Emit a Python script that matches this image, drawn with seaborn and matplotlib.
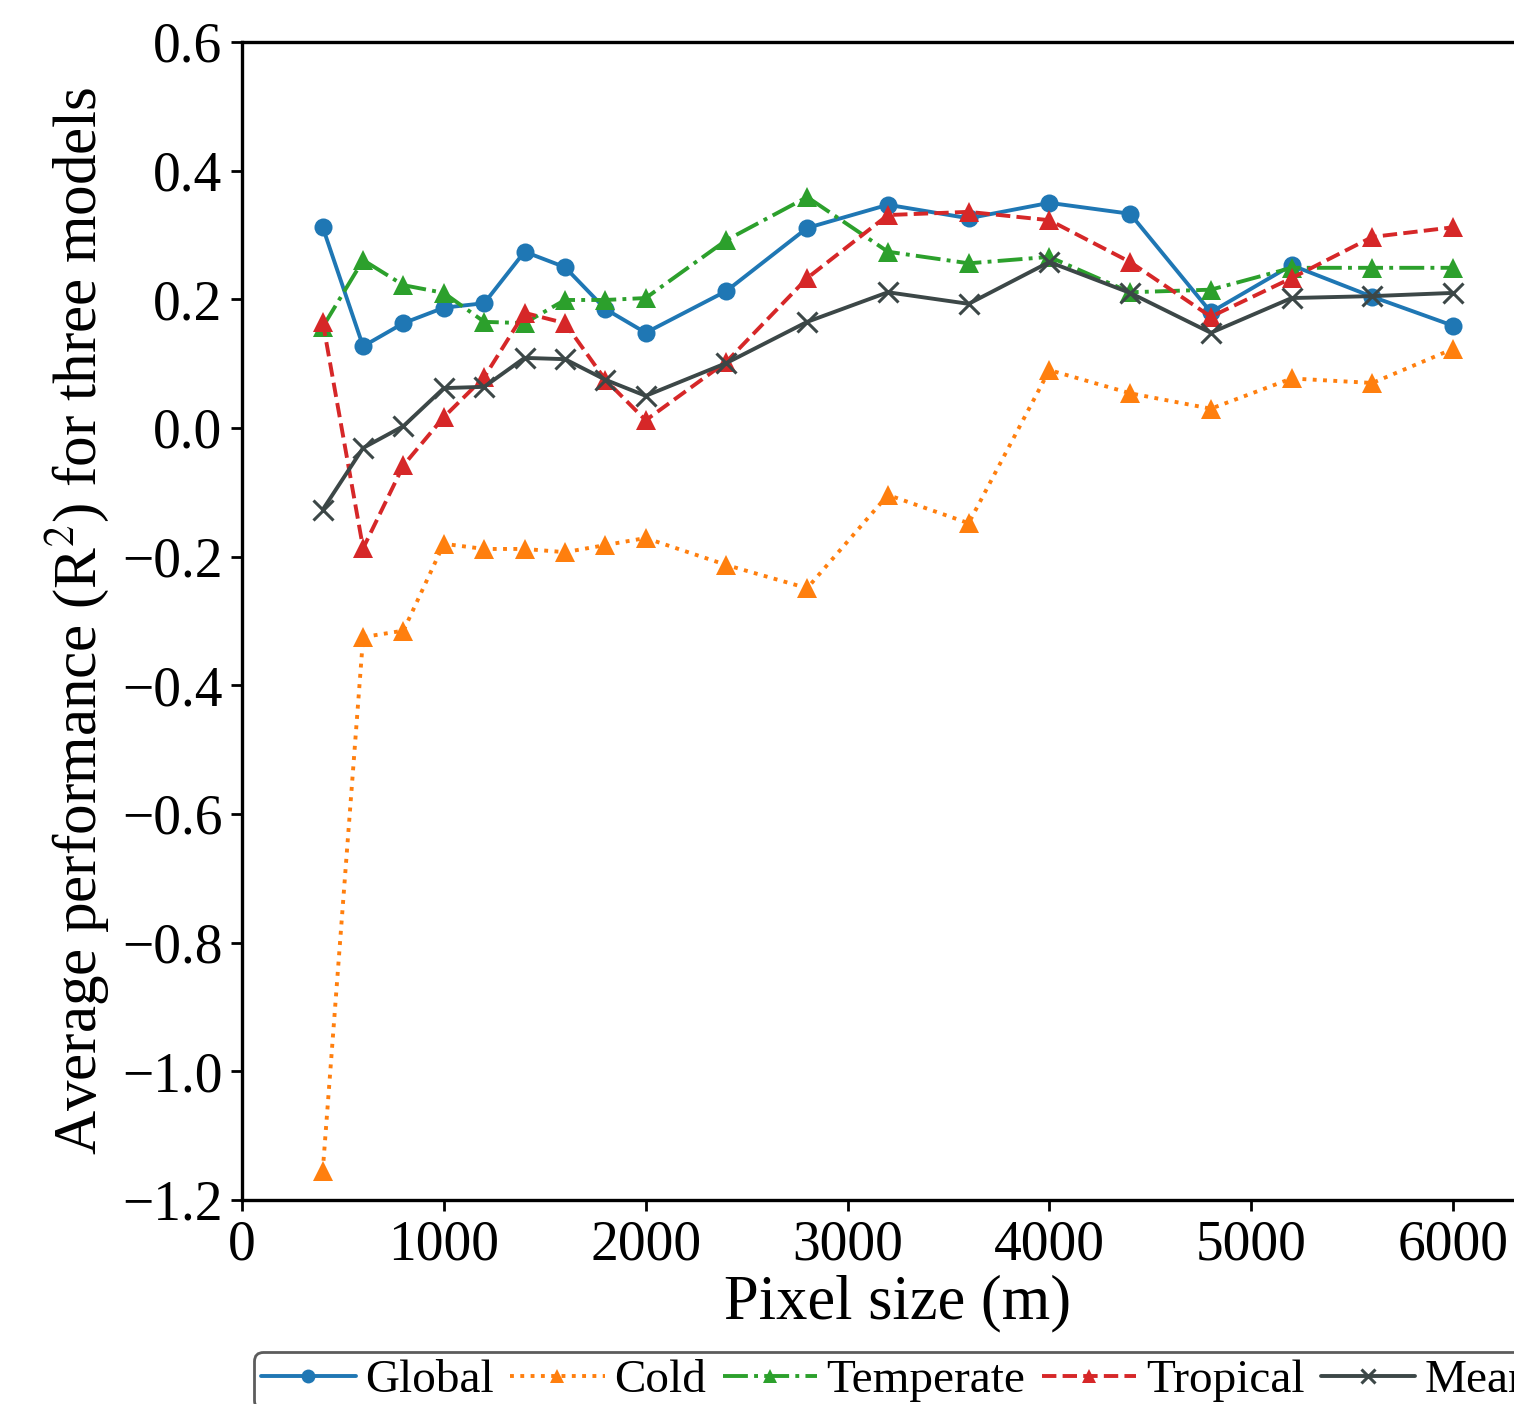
import numpy as np
import pandas as pd
import matplotlib
matplotlib.use("Agg")
import matplotlib.pyplot as plt
import seaborn as sns

# ------------------------------------------------------------------
# data
# ------------------------------------------------------------------
pixel_size = [400, 600, 800, 1000, 1200, 1400, 1600, 1800, 2000,
              2400, 2800, 3200, 3600, 4000, 4400, 4800, 5200, 5600, 6000]

r2_global = [0.312, 0.127, 0.163, 0.187, 0.194, 0.274, 0.250, 0.185, 0.148,
             0.213, 0.311, 0.347, 0.326, 0.350, 0.333, 0.180, 0.253, 0.204, 0.159]
r2_cold = [-1.155, -0.325, -0.315, -0.180, -0.188, -0.188, -0.193, -0.182, -0.171,
           -0.213, -0.249, -0.104, -0.148, 0.090, 0.054, 0.030, 0.077, 0.070, 0.123]
r2_temperate = [0.157, 0.261, 0.222, 0.210, 0.165, 0.163, 0.199, 0.199, 0.202,
                0.292, 0.359, 0.274, 0.256, 0.266, 0.211, 0.215, 0.249, 0.249, 0.249]
r2_tropical = [0.165, -0.187, -0.058, 0.017, 0.079, 0.179, 0.163, 0.075, 0.012,
               0.103, 0.233, 0.331, 0.336, 0.323, 0.258, 0.173, 0.233, 0.297, 0.312]
r2_mean = [-0.127, -0.031, 0.003, 0.062, 0.064, 0.109, 0.107, 0.075, 0.050,
           0.101, 0.165, 0.211, 0.193, 0.258, 0.210, 0.148, 0.202, 0.205, 0.210]

series = ["Global", "Cold", "Temperate", "Tropical", "Mean"]
values = [r2_global, r2_cold, r2_temperate, r2_tropical, r2_mean]
colors = ["#1f77b4", "#ff7f0e", "#2ca02c", "#d62728", "#3c4747"]
markers = ["o", "^", "^", "^", "x"]
styles = ["-", ":", "-.", "--", "-"]

yticks = [-1.2, -1.0, -0.8, -0.6, -0.4, -0.2, 0.0, 0.2, 0.4, 0.6]

# ------------------------------------------------------------------
sns.set_style("white")
plt.rcParams["font.family"] = ["Liberation Serif", "DejaVu Serif"]
plt.rcParams["mathtext.fontset"] = "stix"
plt.rcParams["text.color"] = "black"
plt.rcParams["axes.labelcolor"] = "black"
plt.rcParams["xtick.color"] = "black"
plt.rcParams["ytick.color"] = "black"

fig = plt.figure(figsize=(15.14, 14.04), dpi=100)
ax = fig.add_axes([242 / 1514, 1 - 1200 / 1404, 1312 / 1514, 1158 / 1404])

for name, vals, c, m, ls in zip(series, values, colors, markers, styles):
    df = pd.DataFrame({"x": pixel_size, "y": vals})
    sns.lineplot(data=df, x="x", y="y", ax=ax, color=c, marker=m, linestyle=ls,
                 linewidth=2.8, markersize=13 if m == "o" else 14,
                 markeredgewidth=0 if m != "x" else 2.2,
                 markeredgecolor=c, label=name)

ax.set_xlim(0, 6500)
ax.set_ylim(-1.2, 0.6)
ax.set_xticks([0, 1000, 2000, 3000, 4000, 5000, 6000])
ax.set_yticks(yticks)
ax.set_yticklabels([f"{v:.1f}".replace("-", "\u2212") for v in yticks])

for sp in ax.spines.values():
    sp.set_linewidth(2.4)
    sp.set_color("black")
ax.tick_params(axis="both", which="major", direction="out", length=8, width=2,
               labelsize=40, bottom=True, left=True, pad=6)

ax.set_xlabel("Pixel size (m)", fontsize=45, labelpad=2)
ax.set_ylabel("Average performance (R$^2$) for three models", fontsize=44, labelpad=8)

leg = ax.legend(loc="upper left", bbox_to_anchor=(254 / 1514, 1 - 1352 / 1404),
                bbox_transform=fig.transFigure, ncol=5, fontsize=34, frameon=True,
                fancybox=True, handlelength=2.0, handletextpad=0.2,
                columnspacing=0.35, borderaxespad=0, borderpad=0.15)
leg.get_frame().set_edgecolor("#333333")
leg.get_frame().set_linewidth(2)
for h in leg.legend_handles:
    h.set_markersize(10)

fig.savefig("out.png", dpi=100)
